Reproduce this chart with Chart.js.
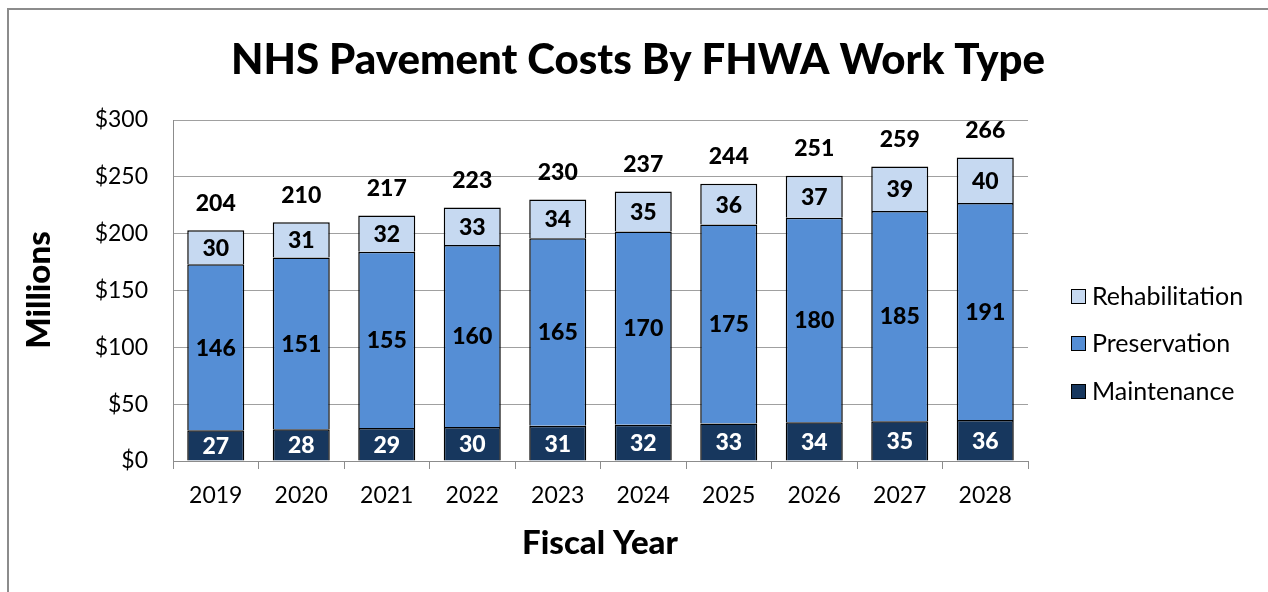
<!DOCTYPE html>
<html>
<head>
<meta charset="utf-8">
<script src="https://cdn.jsdelivr.net/npm/chart.js@4/dist/chart.umd.min.js"></script>
<style>
  html, body { margin: 0; padding: 0; background: #fff; }
  #wrap { width: 1268px; height: 592px; position: relative; }
</style>
</head>
<body>
<div id="wrap"><canvas id="c" width="1268" height="592"></canvas></div>
<script>
const years = ['2019','2020','2021','2022','2023','2024','2025','2026','2027','2028'];
const maintenance    = [27, 28, 29, 30, 31, 32, 33, 34, 35, 36];
const preservation   = [146, 151, 155, 160, 165, 170, 175, 180, 185, 191];
const rehabilitation = [30, 31, 32, 33, 34, 35, 36, 37, 39, 40];
const totals         = [204, 210, 217, 223, 230, 237, 244, 251, 259, 266];

const FONT = 'Lato, "Open Sans", sans-serif';

const labelsPlugin = {
  id: 'labels',
  afterDatasetsDraw(chart) {
    const ctx = chart.ctx;
    ctx.save();
    ctx.textAlign = 'center';
    ctx.textBaseline = 'middle';
    ctx.font = '900 23px ' + FONT;
    chart.data.datasets.forEach((ds, di) => {
      const meta = chart.getDatasetMeta(di);
      meta.data.forEach((bar, i) => {
        const y = (bar.y + bar.base) / 2;
        ctx.fillStyle = di === 0 ? '#ffffff' : '#000000';
        ctx.fillText(String(ds.data[i]), bar.x, y + 1);
      });
    });
    // totals above stacks
    const top = chart.getDatasetMeta(chart.data.datasets.length - 1);
    ctx.fillStyle = '#000';
    top.data.forEach((bar, i) => {
      ctx.fillText(String(totals[i]), bar.x, bar.y - 27);
    });
    ctx.restore();
  },
  afterDraw(chart) {
    const ctx = chart.ctx;
    ctx.save();
    // outer frame
    ctx.strokeStyle = '#8c8c8c';
    ctx.lineWidth = 2;
    ctx.beginPath();
    ctx.moveTo(8, 600);
    ctx.lineTo(8, 9);
    ctx.lineTo(1280, 9);
    ctx.stroke();

    // title
    ctx.fillStyle = '#000';
    ctx.textAlign = 'center';
    ctx.textBaseline = 'middle';
    ctx.font = '900 42px ' + FONT;
    ctx.fillText('NHS Pavement Costs By FHWA Work Type', 638, 60);

    // axis titles
    ctx.font = '900 33px ' + FONT;
    ctx.fillText('Fiscal Year', 600, 543);
    ctx.save();
    ctx.translate(39, 290);
    ctx.rotate(-Math.PI / 2);
    ctx.fillText('Millions', 0, 0);
    ctx.restore();

    // legend (top item = top of stack)
    ctx.textAlign = 'left';
    ctx.font = '25px ' + FONT;
    const order = [2, 1, 0];
    const rowY = [296, 343, 391];
    order.forEach((di, k) => {
      const ds = chart.data.datasets[di];
      const y = rowY[k];
      ctx.fillStyle = ds.backgroundColor;
      ctx.fillRect(1071, y - 7, 14, 14);
      ctx.strokeStyle = '#000';
      ctx.lineWidth = 1;
      ctx.strokeRect(1071.5, y - 6.5, 14, 14);
      ctx.fillStyle = '#000';
      ctx.fillText(ds.label, 1092, y + 1);
    });
    ctx.restore();
  }
};

new Chart(document.getElementById('c'), {
  type: 'bar',
  data: {
    labels: years,
    datasets: [
      { label: 'Maintenance', data: maintenance, backgroundColor: '#17375E', borderColor: '#000', borderWidth: 1.5 },
      { label: 'Preservation', data: preservation, backgroundColor: '#558ED5', borderColor: '#000', borderWidth: 1.5 },
      { label: 'Rehabilitation', data: rehabilitation, backgroundColor: '#C6D9F1', borderColor: '#000', borderWidth: 1.5 }
    ]
  },
  options: {
    responsive: false,
    animation: false,
    layout: { padding: { left: 0, top: 120, right: 240, bottom: 0 } },
    datasets: { bar: { barPercentage: 0.667, categoryPercentage: 1.0 } },
    plugins: { legend: { display: false }, tooltip: { enabled: false } },
    scales: {
      x: {
        stacked: true,
        afterFit(s) { s.height = 131; },
        grid: { drawOnChartArea: false, drawTicks: true, tickLength: 8, offset: true, color: '#8c8c8c' },
        border: { color: '#8c8c8c', width: 1 },
        ticks: { color: '#000', font: { family: FONT, size: 23 }, padding: 13 }
      },
      y: {
        stacked: true,
        min: 0, max: 300,
        afterFit(s) { s.width = 173; },
        grid: { color: '#a0a0a0', drawTicks: false },
        border: { color: '#8c8c8c', width: 1 },
        ticks: { stepSize: 50, color: '#000', font: { family: FONT, size: 23 }, padding: 25,
                 callback: v => '$' + v }
      }
    }
  },
  plugins: [labelsPlugin]
});
</script>
</body>
</html>
